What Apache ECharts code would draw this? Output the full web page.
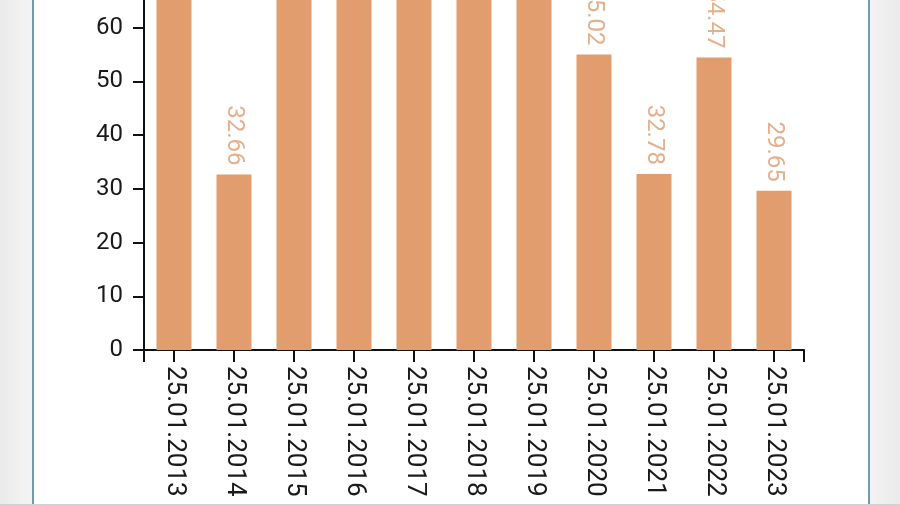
<!DOCTYPE html>
<html>
<head>
<meta charset="utf-8">
<script src="https://cdn.jsdelivr.net/npm/echarts@6/dist/echarts.min.js"></script>
<style>
  html, body { margin: 0; padding: 0; width: 900px; height: 506px; overflow: hidden; background: #eeeeee; }
  #bgL { position: absolute; left: 0; top: 0; width: 33px; height: 506px; background: linear-gradient(to right, #ebebeb, #f4f4f4); }
  #bgR { position: absolute; left: 869px; top: 0; width: 31px; height: 506px; background: linear-gradient(to right, #f2f2f2, #ebebeb); }
  #panel { position: absolute; left: 32px; top: 0; width: 834px; height: 506px; background: #ffffff; border-left: 2px solid #6f9bb2; border-right: 2px solid #6f9bb2; }
  #bottomLine { position: absolute; left: 0; top: 504px; width: 900px; height: 2px; background: #d2d2d2; }
  #chart { position: absolute; left: 0; top: -26px; width: 900px; height: 532px; }
</style>
</head>
<body>
<div id="bgL"></div>
<div id="bgR"></div>
<div id="panel"></div>
<div id="bottomLine"></div>
<div id="chart"></div>
<script>
const categories = ['25.01.2013','25.01.2014','25.01.2015','25.01.2016','25.01.2017','25.01.2018','25.01.2019','25.01.2020','25.01.2021','25.01.2022','25.01.2023'];
const values = [78.5, 32.66, 80.2, 82.4, 84.1, 79.6, 76.3, 55.02, 32.78, 54.47, 29.65];
const yTicks = { min: 0, max: 70, interval: 10 };

const chart = echarts.init(document.getElementById('chart'), null, { renderer: 'canvas' });
const font = 'Roboto, "Noto Sans", sans-serif';
chart.setOption({
  animation: false,
  grid: { left: 144, right: 96, top: 0, bottom: 156, containLabel: false, outerBoundsMode: 'none' },
  xAxis: [
    {
      type: 'category',
      data: categories,
      position: 'bottom',
      axisLine: { show: true, lineStyle: { color: '#111', width: 2 } },
      axisTick: { show: true, alignWithLabel: true, length: 12, lineStyle: { color: '#111', width: 2 } },
      axisLabel: { rotate: -90, fontSize: 26, color: '#1a1a1a', fontFamily: font, margin: 16, interval: 0 },
      splitLine: { show: false }
    },
    {
      type: 'value',
      position: 'bottom',
      min: 0, max: 1, interval: 1,
      axisLine: { show: false },
      axisTick: { show: true, length: 12, lineStyle: { color: '#111', width: 2 } },
      axisLabel: { show: false },
      splitLine: { show: false }
    }
  ],
  yAxis: {
    type: 'value',
    min: yTicks.min, max: yTicks.max, interval: yTicks.interval,
    axisLine: { show: true, lineStyle: { color: '#111', width: 2 } },
    axisTick: { show: true, length: 11, lineStyle: { color: '#111', width: 2 } },
    axisLabel: { fontSize: 24, color: '#1a1a1a', fontFamily: font, margin: 21 },
    splitLine: { show: false }
  },
  series: [{
    type: 'bar',
    xAxisIndex: 0,
    data: values,
    barWidth: 35,
    itemStyle: { color: '#e29d6f' },
    label: {
      show: true,
      position: 'top',
      rotate: -90,
      align: 'right',
      verticalAlign: 'middle',
      distance: 9,
      fontSize: 24,
      fontFamily: font,
      color: '#e4b08e',
      formatter: p => p.value.toFixed(2)
    }
  }]
});
</script>
</body>
</html>
